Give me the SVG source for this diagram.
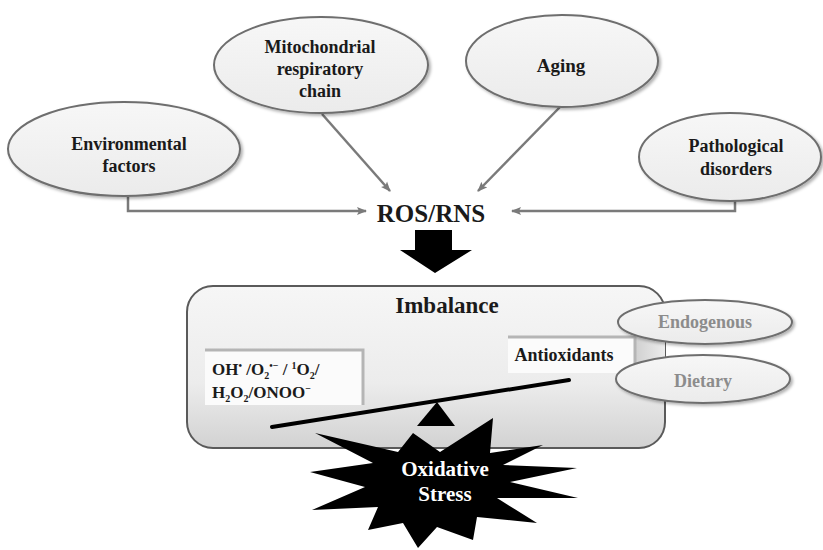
<svg xmlns="http://www.w3.org/2000/svg" width="823" height="550" viewBox="0 0 823 550">
<style>
text{font-family:"Liberation Serif",serif}
.lbl{font-weight:bold;fill:#1a1a1a;text-anchor:middle}
.src{fill:url(#eg);stroke:#6e6e6e;stroke-width:2;filter:url(#sh)}
.sub{fill:url(#eg);stroke:#6e6e6e;stroke-width:2;filter:url(#sh)}
.gl{font-weight:bold;fill:#8c8c8c;text-anchor:middle;font-size:18px}
.con{fill:none;stroke:#7a7a7a;stroke-width:2.5;marker-end:url(#ah)}
</style>
<defs>
<linearGradient id="eg" x1="0" y1="0" x2="0" y2="1">
<stop offset="0" stop-color="#f7f7f7"/><stop offset="1" stop-color="#ebebeb"/>
</linearGradient>
<linearGradient id="bg" x1="0" y1="0" x2="0" y2="1">
<stop offset="0" stop-color="#f6f6f6"/><stop offset="0.6" stop-color="#ececec"/><stop offset="1" stop-color="#d2d2d2"/>
</linearGradient>
<linearGradient id="slab" x1="0" y1="0" x2="1" y2="0">
<stop offset="0" stop-color="#d0d0d0"/><stop offset="1" stop-color="#ececec"/>
</linearGradient>
<filter id="sh" x="-10%" y="-10%" width="125%" height="130%">
<feDropShadow dx="2" dy="2" stdDeviation="1.5" flood-color="#000" flood-opacity="0.3"/>
</filter>
<marker id="ah" markerWidth="10" markerHeight="10" refX="9" refY="5" orient="auto" markerUnits="userSpaceOnUse">
<path d="M0,1 L10,5 L0,9 L2,5 Z" fill="#7a7a7a"/>
</marker>
</defs>

<g id="connectors">
<polyline class="con" points="128,197 128,211 366,211"/>
<line class="con" x1="322" y1="114" x2="390" y2="191"/>
<line class="con" x1="560" y1="107" x2="478" y2="191"/>
<polyline class="con" points="735,201 735,211 512,211"/>
<polygon id="bigarrow" points="415,230 452,230 452,250 472,250 435,273 400,250 415,250" fill="#000"/>
</g>

<g id="env">
<ellipse class="src" cx="124" cy="149" rx="116" ry="47"/>
<text class="lbl" font-family="Liberation Serif" x="129" y="150" font-size="18">Environmental</text>
<text class="lbl" font-family="Liberation Serif" x="129" y="172" font-size="18">factors</text>
</g>
<g id="mito">
<ellipse class="src" cx="321" cy="65" rx="107" ry="48"/>
<text class="lbl" font-family="Liberation Serif" x="320" y="53" font-size="18">Mitochondrial</text>
<text class="lbl" font-family="Liberation Serif" x="320" y="75" font-size="18">respiratory</text>
<text class="lbl" font-family="Liberation Serif" x="320" y="97" font-size="18">chain</text>
</g>
<g id="aging">
<ellipse class="src" cx="562" cy="61" rx="96" ry="46"/>
<text class="lbl" font-family="Liberation Serif" x="561" y="72" font-size="19">Aging</text>
</g>
<g id="patho">
<ellipse class="src" cx="730" cy="157" rx="91" ry="44"/>
<text class="lbl" font-family="Liberation Serif" x="736" y="152" font-size="18">Pathological</text>
<text class="lbl" font-family="Liberation Serif" x="736" y="175" font-size="18">disorders</text>
</g>
<g id="rosrns">
<text class="lbl" font-family="Liberation Serif" x="431" y="222" font-size="25">ROS/RNS</text>
</g>

<g id="imbalance">
<rect x="187" y="286" width="478" height="162" rx="26" fill="url(#bg)" stroke="#5a5a5a" stroke-width="2"/>
<text class="lbl" font-family="Liberation Serif" x="447" y="313" font-size="23">Imbalance</text>
</g>

<g id="ros-box">
<rect x="205" y="350" width="158" height="55" fill="#fbfbfb"/>
<polyline points="205,350 363,350 363,405" fill="none" stroke="#b5b5b5" stroke-width="3"/>
<text class="lbl" font-family="Liberation Serif" x="212" y="375" font-size="17" style="text-anchor:start">OH<tspan font-size="10" dy="-6">•</tspan><tspan dy="6"> /O</tspan><tspan font-size="10" dy="4">2</tspan><tspan font-size="10" dy="-10">•−</tspan><tspan dy="6"> / </tspan><tspan font-size="10" dy="-6">1</tspan><tspan dy="6">O</tspan><tspan font-size="10" dy="4">2</tspan><tspan dy="-4">/</tspan></text>
<text class="lbl" font-family="Liberation Serif" x="212" y="398" font-size="17" style="text-anchor:start">H<tspan font-size="10" dy="4">2</tspan><tspan dy="-4">O</tspan><tspan font-size="10" dy="4">2</tspan><tspan dy="-4">/ONOO</tspan><tspan font-size="10" dy="-6">−</tspan></text>
</g>

<g id="antiox">
<rect x="635" y="337" width="30" height="35" fill="url(#slab)"/>
<rect x="508" y="337" width="127" height="36" fill="#fbfbfb"/>
<polyline points="508,337 635,337 635,373" fill="none" stroke="#b5b5b5" stroke-width="3"/>
<text class="lbl" font-family="Liberation Serif" x="564" y="361" font-size="18">Antioxidants</text>
</g>

<g id="endo">
<ellipse class="sub" cx="705" cy="322" rx="87" ry="22"/>
<text class="gl" font-family="Liberation Serif" x="705" y="328">Endogenous</text>
</g>
<g id="dietary">
<ellipse class="sub" cx="703" cy="379" rx="87" ry="24"/>
<text class="gl" font-family="Liberation Serif" x="703" y="387">Dietary</text>
</g>

<g id="seesaw">
<line x1="272" y1="427" x2="569" y2="380" stroke="#000" stroke-width="4" stroke-linecap="round"/>
<polygon points="437,402 455,426 417,426" fill="#000"/>
</g>

<g id="stress">
<polygon fill="#000" points="413,433 440,452 493,418 490,453 543,445 503,465 577,468 510,482 578,498 497,498 537,523 477,517 473,540 437,527 418,548 403,523 368,530 378,507 312,510 365,487 310,472 373,463 315,433 398,452"/>
<text class="lbl" font-family="Liberation Serif" x="445" y="476" font-size="21" style="fill:#fff">Oxidative</text>
<text class="lbl" font-family="Liberation Serif" x="445" y="501" font-size="21" style="fill:#fff">Stress</text>
</g>
</svg>
